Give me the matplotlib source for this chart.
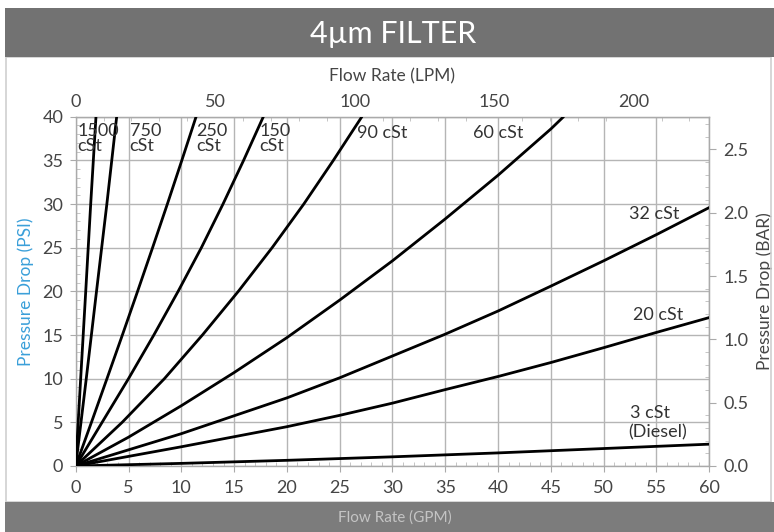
import matplotlib
matplotlib.use("Agg")
import matplotlib.pyplot as plt
from matplotlib.patches import Rectangle
from matplotlib.ticker import MultipleLocator, FormatStrFormatter

plt.rcParams['font.family'] = ['Lato', 'DejaVu Sans']

# ---------------- data (GPM, PSI) ----------------
psi_steps10 = [0, 10, 20, 30, 40]
psi_steps5 = [0, 5, 10, 15, 20, 25, 30, 35, 40]

gpm_1500 = [0, 0.47, 0.95, 1.42, 1.92]
psi_1500 = psi_steps10

gpm_750 = [0, 1.0, 1.97, 2.95, 3.88]
psi_750 = psi_steps10

gpm_250 = [0, 1.49, 2.96, 4.42, 5.86, 7.28, 8.68, 10.05, 11.4]
psi_250 = psi_steps5

gpm_150 = [0, 2.5, 5.0, 7.4, 9.7, 11.9, 13.95, 15.9, 17.77]
psi_150 = psi_steps5

gpm_90 = [0, 4.4, 8.4, 12.0, 15.4, 18.6, 21.6, 24.4, 27.1]
psi_90 = psi_steps5

gpm_60 = [0, 5, 10, 15, 20, 25, 30, 35, 40, 45, 46.2]
psi_60 = [0, 3.3, 6.9, 10.7, 14.7, 19.0, 23.5, 28.3, 33.3, 38.6, 40]

gpm_32 = [0, 10, 20, 25, 30, 35, 40, 45, 50, 55, 60]
psi_32 = [0, 3.7, 7.8, 10.1, 12.6, 15.1, 17.75, 20.6, 23.5, 26.5, 29.6]

gpm_20 = [0, 10, 20, 25, 30, 35, 40, 45, 50, 55, 60]
psi_20 = [0, 2.2, 4.5, 5.8, 7.2, 8.75, 10.25, 11.85, 13.55, 15.3, 17.0]

gpm_3 = [0, 10, 20, 30, 40, 50, 60]
psi_3 = [0, 0.3, 0.65, 1.05, 1.5, 2.0, 2.5]

series = [
    (gpm_1500, psi_1500), (gpm_750, psi_750), (gpm_250, psi_250),
    (gpm_150, psi_150), (gpm_90, psi_90), (gpm_60, psi_60),
    (gpm_32, psi_32), (gpm_20, psi_20), (gpm_3, psi_3),
]

bottom_ticks = list(range(0, 61, 5))
left_ticks = list(range(0, 41, 5))
top_ticks_lpm = [0, 50, 100, 150, 200]
right_ticks_bar = [0.0, 0.5, 1.0, 1.5, 2.0, 2.5]

LPM_PER_GPM = 3.78541
PSI_PER_BAR = 14.5038

W, H = 774, 532
fig = plt.figure(figsize=(W / 100, H / 100), dpi=100)
fig.patch.set_facecolor('white')


def fx(x):
    return x / W


def fy(y):
    return 1 - y / H


# outer frame
fig.patches.append(Rectangle((fx(6), fy(502)), fx(765), (445) / H, transform=fig.transFigure,
                             facecolor='none', edgecolor='#cfcfcf', lw=1.2, zorder=0))
# top banner
fig.patches.append(Rectangle((fx(5), fy(57)), 1 - fx(5), 49 / H, transform=fig.transFigure,
                             facecolor='#727272', edgecolor='none', zorder=1))
fig.text(fx(393), fy(34), '4µm FILTER', color='white', fontsize=22,
         ha='center', va='center')
# bottom banner
fig.patches.append(Rectangle((fx(5), 0), 1 - fx(5), 30 / H, transform=fig.transFigure,
                             facecolor='#7c7c7c', edgecolor='none', zorder=1))
fig.text(fx(395), fy(518), 'Flow Rate (GPM)', color='#c4c4c4', fontsize=11,
         ha='center', va='center')

x0, x1 = 75.7, 709.3
y0, y1 = 466.0, 116.7
ax = fig.add_axes([fx(x0), fy(y0), (x1 - x0) / W, (y0 - y1) / H])
ax.set_xlim(0, 60)
ax.set_ylim(0, 40)

for gx, gy in series:
    ax.plot(gx, gy, color='black', lw=2.0, solid_capstyle='round',
            solid_joinstyle='round', zorder=3)

ax.set_xticks(bottom_ticks)
ax.set_yticks(left_ticks)
ax.xaxis.set_minor_locator(MultipleLocator(1))
ax.yaxis.set_minor_locator(MultipleLocator(1))
ax.grid(True, which='major', color='#b5b5b5', lw=1.0, zorder=1)
tick_col = '#454545'
ax.tick_params(axis='both', which='major', labelsize=13, colors='#aaaaaa',
               labelcolor=tick_col, length=4, direction='out')
ax.tick_params(axis='x', which='major', pad=6)
ax.tick_params(axis='y', which='major', pad=5)
ax.tick_params(axis='both', which='minor', colors='#bbbbbb', length=3, direction='in')
for s in ax.spines.values():
    s.set_color('#aaaaaa')
    s.set_linewidth(1.0)

ax.set_ylabel('Pressure Drop (PSI)', color='#3a9fd9', fontsize=12.5, labelpad=6)

# top LPM axis
top = ax.secondary_xaxis('top', functions=(lambda g: g * LPM_PER_GPM, lambda l: l / LPM_PER_GPM))
top.set_xticks(top_ticks_lpm)
top.xaxis.set_minor_locator(MultipleLocator(10))
top.tick_params(which='major', labelsize=13, colors='#aaaaaa', labelcolor=tick_col,
                length=0, pad=5)
top.tick_params(which='minor', colors='#bbbbbb', length=3, direction='in')
top.set_xlabel('Flow Rate (LPM)', fontsize=12.5, color='#454545', labelpad=9)
top.spines['top'].set_color('#aaaaaa')

# right BAR axis
right = ax.secondary_yaxis('right', functions=(lambda p: p / PSI_PER_BAR, lambda b: b * PSI_PER_BAR))
right.set_yticks(right_ticks_bar)
right.yaxis.set_major_formatter(FormatStrFormatter('%.1f'))
right.yaxis.set_minor_locator(MultipleLocator(0.1))
right.tick_params(which='major', labelsize=13, colors='#aaaaaa', labelcolor=tick_col,
                  length=5, direction='out', pad=5)
right.tick_params(which='minor', colors='#bbbbbb', length=3, direction='in')
right.set_ylabel('Pressure Drop (BAR)', fontsize=12.5, color='#454545', labelpad=6)
right.spines['right'].set_color('#aaaaaa')

# viscosity labels
lab_kw = dict(fontsize=13, color='#333333', linespacing=0.95, zorder=4)
ax.text(0.15, 39.3, '1500\ncSt', ha='left', va='top', **lab_kw)
ax.text(5.1, 39.3, '750\ncSt', ha='left', va='top', **lab_kw)
ax.text(11.4, 39.3, '250\ncSt', ha='left', va='top', **lab_kw)
ax.text(17.4, 39.3, '150\ncSt', ha='left', va='top', **lab_kw)
ax.text(26.6, 38.1, '90 cSt', ha='left', va='center', **lab_kw)
ax.text(37.6, 38.1, '60 cSt', ha='left', va='center', **lab_kw)
ax.text(52.4, 28.9, '32 cSt', ha='left', va='center', **lab_kw)
ax.text(52.8, 17.3, '20 cSt', ha='left', va='center', **lab_kw)
ax.text(52.5, 6.1, '3 cSt', ha='left', va='center', **lab_kw)
ax.text(52.3, 3.8, '(Diesel)', ha='left', va='center', **lab_kw)

fig.savefig('out.png', dpi=100, facecolor='white')
